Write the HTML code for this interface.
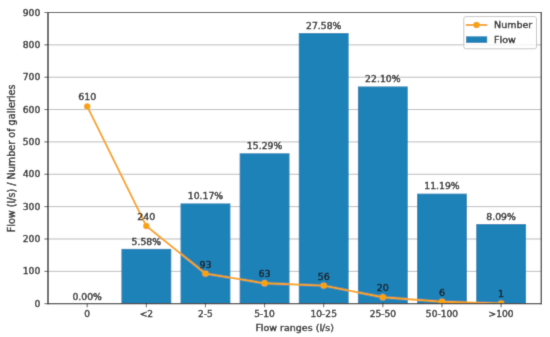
<!DOCTYPE html>
<html lang="en"><head><meta charset="utf-8"><title>Flow ranges chart</title>
<style>html,body{margin:0;padding:0;background:#fff;}body{width:550px;height:337px;overflow:hidden;}svg{display:block;}text{font-family:"DejaVu Sans","Liberation Sans",sans-serif;font-size:9.5px;fill:#1c1c1c;stroke:#1c1c1c;stroke-width:0.4px;}text.t{font-size:9.25px;}text.x{font-size:9.1px;}text.p{font-size:9.3px;}text.y{font-size:9.65px;}</style></head><body>
<svg width="550" height="337" viewBox="0 0 550 337">
<rect width="550" height="337" fill="#ffffff"/>
<filter id="b" x="0" y="0" width="550" height="337" filterUnits="userSpaceOnUse"><feConvolveMatrix order="3" kernelMatrix="0.0144 0.0912 0.0144 0.0912 0.5776 0.0912 0.0144 0.0912 0.0144" divisor="1" edgeMode="duplicate" preserveAlpha="true"/></filter>
<g filter="url(#b)">
<rect width="550" height="337" fill="#ffffff"/>
<line x1="48.00" x2="541.30" y1="271.34" y2="271.34" stroke="#bcbcbc" stroke-width="1"/>
<line x1="48.00" x2="541.30" y1="238.99" y2="238.99" stroke="#bcbcbc" stroke-width="1"/>
<line x1="48.00" x2="541.30" y1="206.63" y2="206.63" stroke="#bcbcbc" stroke-width="1"/>
<line x1="48.00" x2="541.30" y1="174.28" y2="174.28" stroke="#bcbcbc" stroke-width="1"/>
<line x1="48.00" x2="541.30" y1="141.92" y2="141.92" stroke="#bcbcbc" stroke-width="1"/>
<line x1="48.00" x2="541.30" y1="109.57" y2="109.57" stroke="#bcbcbc" stroke-width="1"/>
<line x1="48.00" x2="541.30" y1="77.21" y2="77.21" stroke="#bcbcbc" stroke-width="1"/>
<line x1="48.00" x2="541.30" y1="44.86" y2="44.86" stroke="#bcbcbc" stroke-width="1"/>
<rect x="121.38" y="248.86" width="49.90" height="54.84" fill="#1f82b8"/>
<rect x="180.51" y="203.40" width="49.90" height="100.30" fill="#1f82b8"/>
<rect x="239.64" y="153.25" width="49.90" height="150.45" fill="#1f82b8"/>
<rect x="298.77" y="33.05" width="49.90" height="270.65" fill="#1f82b8"/>
<rect x="357.90" y="86.43" width="49.90" height="217.27" fill="#1f82b8"/>
<rect x="417.03" y="193.63" width="49.90" height="110.07" fill="#1f82b8"/>
<rect x="476.16" y="224.04" width="49.90" height="79.66" fill="#1f82b8"/>
<clipPath id="ax"><rect x="48.00" y="12.50" width="493.30" height="291.20"/></clipPath>
<g clip-path="url(#ax)">
<polyline points="87.20,106.33 146.33,226.05 205.46,273.61 264.59,283.32 323.72,285.58 382.85,297.23 441.98,301.76 501.11,303.38" fill="none" stroke="#f8a209" stroke-opacity="1" stroke-width="1.9" stroke-linejoin="round"/>
<circle cx="87.20" cy="106.33" r="3.2" fill="#f8a209"/>
<circle cx="146.33" cy="226.05" r="3.2" fill="#f8a209"/>
<circle cx="205.46" cy="273.61" r="3.2" fill="#f8a209"/>
<circle cx="264.59" cy="283.32" r="3.2" fill="#f8a209"/>
<circle cx="323.72" cy="285.58" r="3.2" fill="#f8a209"/>
<circle cx="382.85" cy="297.23" r="3.2" fill="#f8a209"/>
<circle cx="441.98" cy="301.76" r="3.2" fill="#f8a209"/>
<circle cx="501.11" cy="303.38" r="3.2" fill="#f8a209"/>
</g>
<line x1="48.00" x2="48.00" y1="12.00" y2="304.20" stroke="#303030" stroke-width="1.5"/>
<line x1="541.30" x2="541.30" y1="12.00" y2="304.20" stroke="#303030" stroke-width="1.3"/>
<line x1="47.50" x2="541.80" y1="12.50" y2="12.50" stroke="#303030" stroke-width="1.2"/>
<line x1="47.50" x2="541.80" y1="303.70" y2="303.70" stroke="#303030" stroke-width="1.3"/>
<line x1="44.40" x2="48.00" y1="303.70" y2="303.70" stroke="#303030" stroke-width="0.8"/>
<text x="40.40" y="306.75" text-anchor="end" class="t">0</text>
<line x1="44.40" x2="48.00" y1="271.34" y2="271.34" stroke="#303030" stroke-width="0.8"/>
<text x="40.40" y="274.39" text-anchor="end" class="t">100</text>
<line x1="44.40" x2="48.00" y1="238.99" y2="238.99" stroke="#303030" stroke-width="0.8"/>
<text x="40.40" y="242.04" text-anchor="end" class="t">200</text>
<line x1="44.40" x2="48.00" y1="206.63" y2="206.63" stroke="#303030" stroke-width="0.8"/>
<text x="40.40" y="209.68" text-anchor="end" class="t">300</text>
<line x1="44.40" x2="48.00" y1="174.28" y2="174.28" stroke="#303030" stroke-width="0.8"/>
<text x="40.40" y="177.33" text-anchor="end" class="t">400</text>
<line x1="44.40" x2="48.00" y1="141.92" y2="141.92" stroke="#303030" stroke-width="0.8"/>
<text x="40.40" y="144.97" text-anchor="end" class="t">500</text>
<line x1="44.40" x2="48.00" y1="109.57" y2="109.57" stroke="#303030" stroke-width="0.8"/>
<text x="40.40" y="112.62" text-anchor="end" class="t">600</text>
<line x1="44.40" x2="48.00" y1="77.21" y2="77.21" stroke="#303030" stroke-width="0.8"/>
<text x="40.40" y="80.26" text-anchor="end" class="t">700</text>
<line x1="44.40" x2="48.00" y1="44.86" y2="44.86" stroke="#303030" stroke-width="0.8"/>
<text x="40.40" y="47.91" text-anchor="end" class="t">800</text>
<line x1="44.40" x2="48.00" y1="12.50" y2="12.50" stroke="#303030" stroke-width="0.8"/>
<text x="40.40" y="15.55" text-anchor="end" class="t">900</text>
<line x1="87.20" x2="87.20" y1="303.70" y2="307.30" stroke="#303030" stroke-width="0.8"/>
<text x="87.20" y="317.30" text-anchor="middle" class="t x">0</text>
<line x1="146.33" x2="146.33" y1="303.70" y2="307.30" stroke="#303030" stroke-width="0.8"/>
<text x="146.33" y="317.30" text-anchor="middle" class="t x">&lt;2</text>
<line x1="205.46" x2="205.46" y1="303.70" y2="307.30" stroke="#303030" stroke-width="0.8"/>
<text x="205.46" y="317.30" text-anchor="middle" class="t x">2-5</text>
<line x1="264.59" x2="264.59" y1="303.70" y2="307.30" stroke="#303030" stroke-width="0.8"/>
<text x="264.59" y="317.30" text-anchor="middle" class="t x">5-10</text>
<line x1="323.72" x2="323.72" y1="303.70" y2="307.30" stroke="#303030" stroke-width="0.8"/>
<text x="323.72" y="317.30" text-anchor="middle" class="t x">10-25</text>
<line x1="382.85" x2="382.85" y1="303.70" y2="307.30" stroke="#303030" stroke-width="0.8"/>
<text x="382.85" y="317.30" text-anchor="middle" class="t x">25-50</text>
<line x1="441.98" x2="441.98" y1="303.70" y2="307.30" stroke="#303030" stroke-width="0.8"/>
<text x="441.98" y="317.30" text-anchor="middle" class="t x">50-100</text>
<line x1="501.11" x2="501.11" y1="303.70" y2="307.30" stroke="#303030" stroke-width="0.8"/>
<text x="501.11" y="317.30" text-anchor="middle" class="t x">&gt;100</text>
<text x="87.20" y="300.40" text-anchor="middle" class="p">0.00%</text>
<text x="146.33" y="244.56" text-anchor="middle" class="p">5.58%</text>
<text x="205.46" y="199.10" text-anchor="middle" class="p">10.17%</text>
<text x="264.59" y="148.95" text-anchor="middle" class="p">15.29%</text>
<text x="323.72" y="28.75" text-anchor="middle" class="p">27.58%</text>
<text x="382.85" y="82.13" text-anchor="middle" class="p">22.10%</text>
<text x="441.98" y="189.33" text-anchor="middle" class="p">11.19%</text>
<text x="501.11" y="219.74" text-anchor="middle" class="p">8.09%</text>
<text x="87.20" y="100.33" text-anchor="middle">610</text>
<text x="146.33" y="220.05" text-anchor="middle">240</text>
<text x="205.46" y="267.61" text-anchor="middle">93</text>
<text x="264.59" y="277.32" text-anchor="middle">63</text>
<text x="323.72" y="279.58" text-anchor="middle">56</text>
<text x="382.85" y="291.23" text-anchor="middle">20</text>
<text x="441.98" y="295.76" text-anchor="middle">6</text>
<text x="501.11" y="297.38" text-anchor="middle">1</text>
<text x="294.65" y="331.00" text-anchor="middle">Flow ranges (l/s)</text>
<text transform="translate(15.20,158.40) rotate(-90)" text-anchor="middle" class="y">Flow (l/s) / Number of galleries</text>
<rect x="463.8" y="16.6" width="72.7" height="32.2" rx="2" ry="2" fill="#ffffff" fill-opacity="0.8" stroke="#c6c6c6" stroke-width="1"/>
<line x1="465.8" x2="487.2" y1="25.0" y2="25.0" stroke="#f8a209" stroke-width="1.9"/>
<circle cx="476.5" cy="25.0" r="3.2" fill="#f8a209"/>
<text x="494.1" y="27.6">Number</text>
<rect x="466.0" y="36.3" width="21.2" height="6.6" fill="#1f82b8"/>
<text x="494.1" y="43.0">Flow</text>
</g>
</svg></body></html>
